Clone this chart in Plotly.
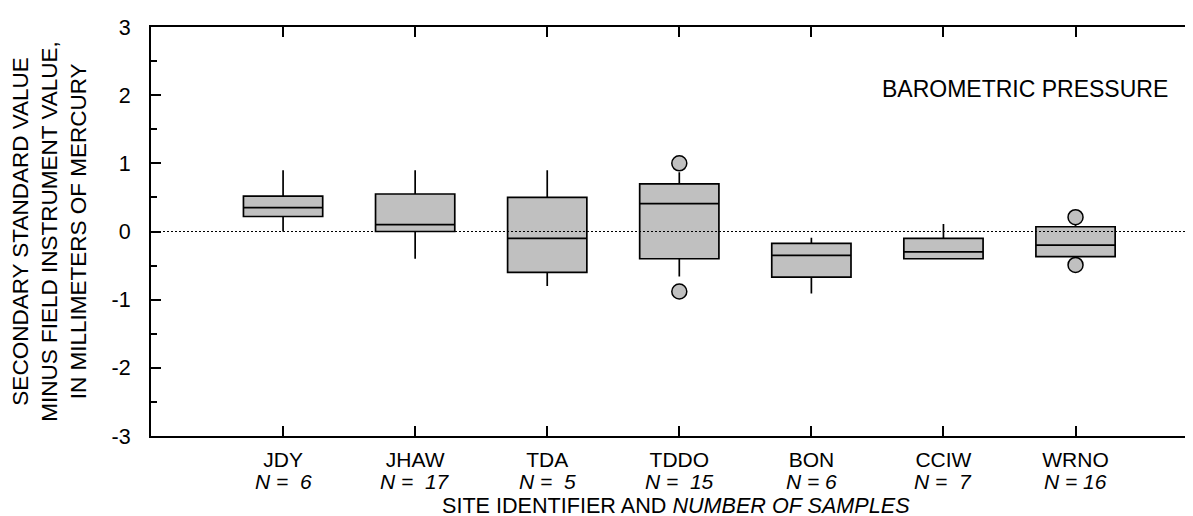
import plotly.graph_objects as go

# ---- data ----
sites = ["JDY", "JHAW", "TDA", "TDDO", "BON", "CCIW", "WRNO"]
n_labels = ["N =\u00a0 6", "N =\u00a0 17", "N =\u00a0 5", "N =\u00a0 15", "N = 6", "N =\u00a0 7", "N = 16"]
lower_whisker = [0.0, -0.40, -0.80, -0.66, -0.91, -0.40, -0.43]
q1 = [0.22, 0.0, -0.60, -0.40, -0.67, -0.40, -0.37]
median = [0.35, 0.10, -0.10, 0.41, -0.35, -0.30, -0.20]
q3 = [0.52, 0.55, 0.50, 0.70, -0.175, -0.10, 0.07]
upper_whisker = [0.90, 0.90, 0.90, 0.87, -0.09, 0.11, 0.12]
outlier_sites = ["TDDO", "TDDO", "WRNO", "WRNO"]
outlier_values = [1.00, -0.88, 0.21, -0.49]
y_ticks = [-3, -2, -1, 0, 1, 2, 3]
y_tick_text = ["-3", "-2", "-1", "0", "1", "2", "3"]

positions = list(range(1, len(sites) + 1))
outlier_x = [positions[sites.index(s)] for s in outlier_sites]

FONT = "Liberation Sans, Arial, sans-serif"
GRAY = "#c0c0c0"

fig = go.Figure()
fig.add_trace(go.Box(
    x=positions, q1=q1, median=median, q3=q3,
    lowerfence=lower_whisker, upperfence=upper_whisker,
    width=0.6, whiskerwidth=0, boxpoints=False,
    fillcolor=GRAY, line=dict(color="black", width=1.7),
    showlegend=False,
))
fig.add_trace(go.Scatter(
    x=outlier_x, y=outlier_values, mode="markers",
    marker=dict(symbol="circle", size=15, color=GRAY,
                line=dict(color="black", width=1.5)),
    showlegend=False,
))

fig.update_layout(
    width=1193, height=516,
    margin=dict(l=143, r=0, t=19, b=88),
    paper_bgcolor="white", plot_bgcolor="white",
    font=dict(family=FONT, size=21, color="black"),
    xaxis=dict(
        range=[0, 7.95], tickvals=positions, ticktext=sites,
        ticks="inside", ticklen=10, tickwidth=2, tickcolor="black",
        showline=True, linewidth=2, linecolor="black", mirror="ticks",
        showgrid=False, zeroline=False, ticklabelstandoff=4,
        tickfont=dict(size=21),
    ),
    yaxis=dict(
        range=[-3, 3], tickvals=y_ticks, ticktext=y_tick_text,
        ticks="inside", ticklen=10, tickwidth=2, tickcolor="black",
        minor=dict(ticks="inside", ticklen=6, tickwidth=2, tickcolor="black",
                   dtick=0.5, showgrid=False),
        showline=True, linewidth=2, linecolor="black", mirror=False,
        showgrid=False, zeroline=False, ticklabelstandoff=14,
        tickfont=dict(size=21.5),
    ),
    yaxis2=dict(
        overlaying="y", side="right", anchor="x", range=[-3, 3],
        tickvals=y_ticks, ticks="inside", ticklen=3, tickwidth=2,
        tickcolor="black", showticklabels=False, showline=False,
        showgrid=False, zeroline=False,
    ),
    shapes=[dict(type="line", xref="x domain", x0=0, x1=1, yref="y", y0=0, y1=0,
                 line=dict(color="black", width=1.2, dash="2px,2px"), layer="above")],
)

annotations = []
for p, lab in zip(positions, n_labels):
    annotations.append(dict(
        x=p, xref="x", y=0, yref="paper", yanchor="top", yshift=-32,
        text=f"<i>{lab}</i>", showarrow=False, font=dict(size=21)))
annotations.append(dict(
    x=0.5, xref="paper", y=0, yref="paper", yanchor="top", yshift=-55,
    text="SITE IDENTIFIER AND <i>NUMBER OF SAMPLES</i>", showarrow=False,
    font=dict(size=21.6)))
annotations.append(dict(
    x=-0.097, xref="paper", y=0.5, yref="paper", xanchor="center", yanchor="middle",
    text="SECONDARY STANDARD VALUE<br>MINUS FIELD INSTRUMENT VALUE,<br>IN MILLIMETERS OF MERCURY",
    textangle=-90, showarrow=False, font=dict(size=22.5)))
annotations.append(dict(
    x=0.9705, xref="paper", y=0.849, yref="paper", xanchor="right", yanchor="middle",
    text="BAROMETRIC PRESSURE", showarrow=False, font=dict(size=23)))
fig.update_layout(annotations=annotations)

fig.write_html("out.html")
